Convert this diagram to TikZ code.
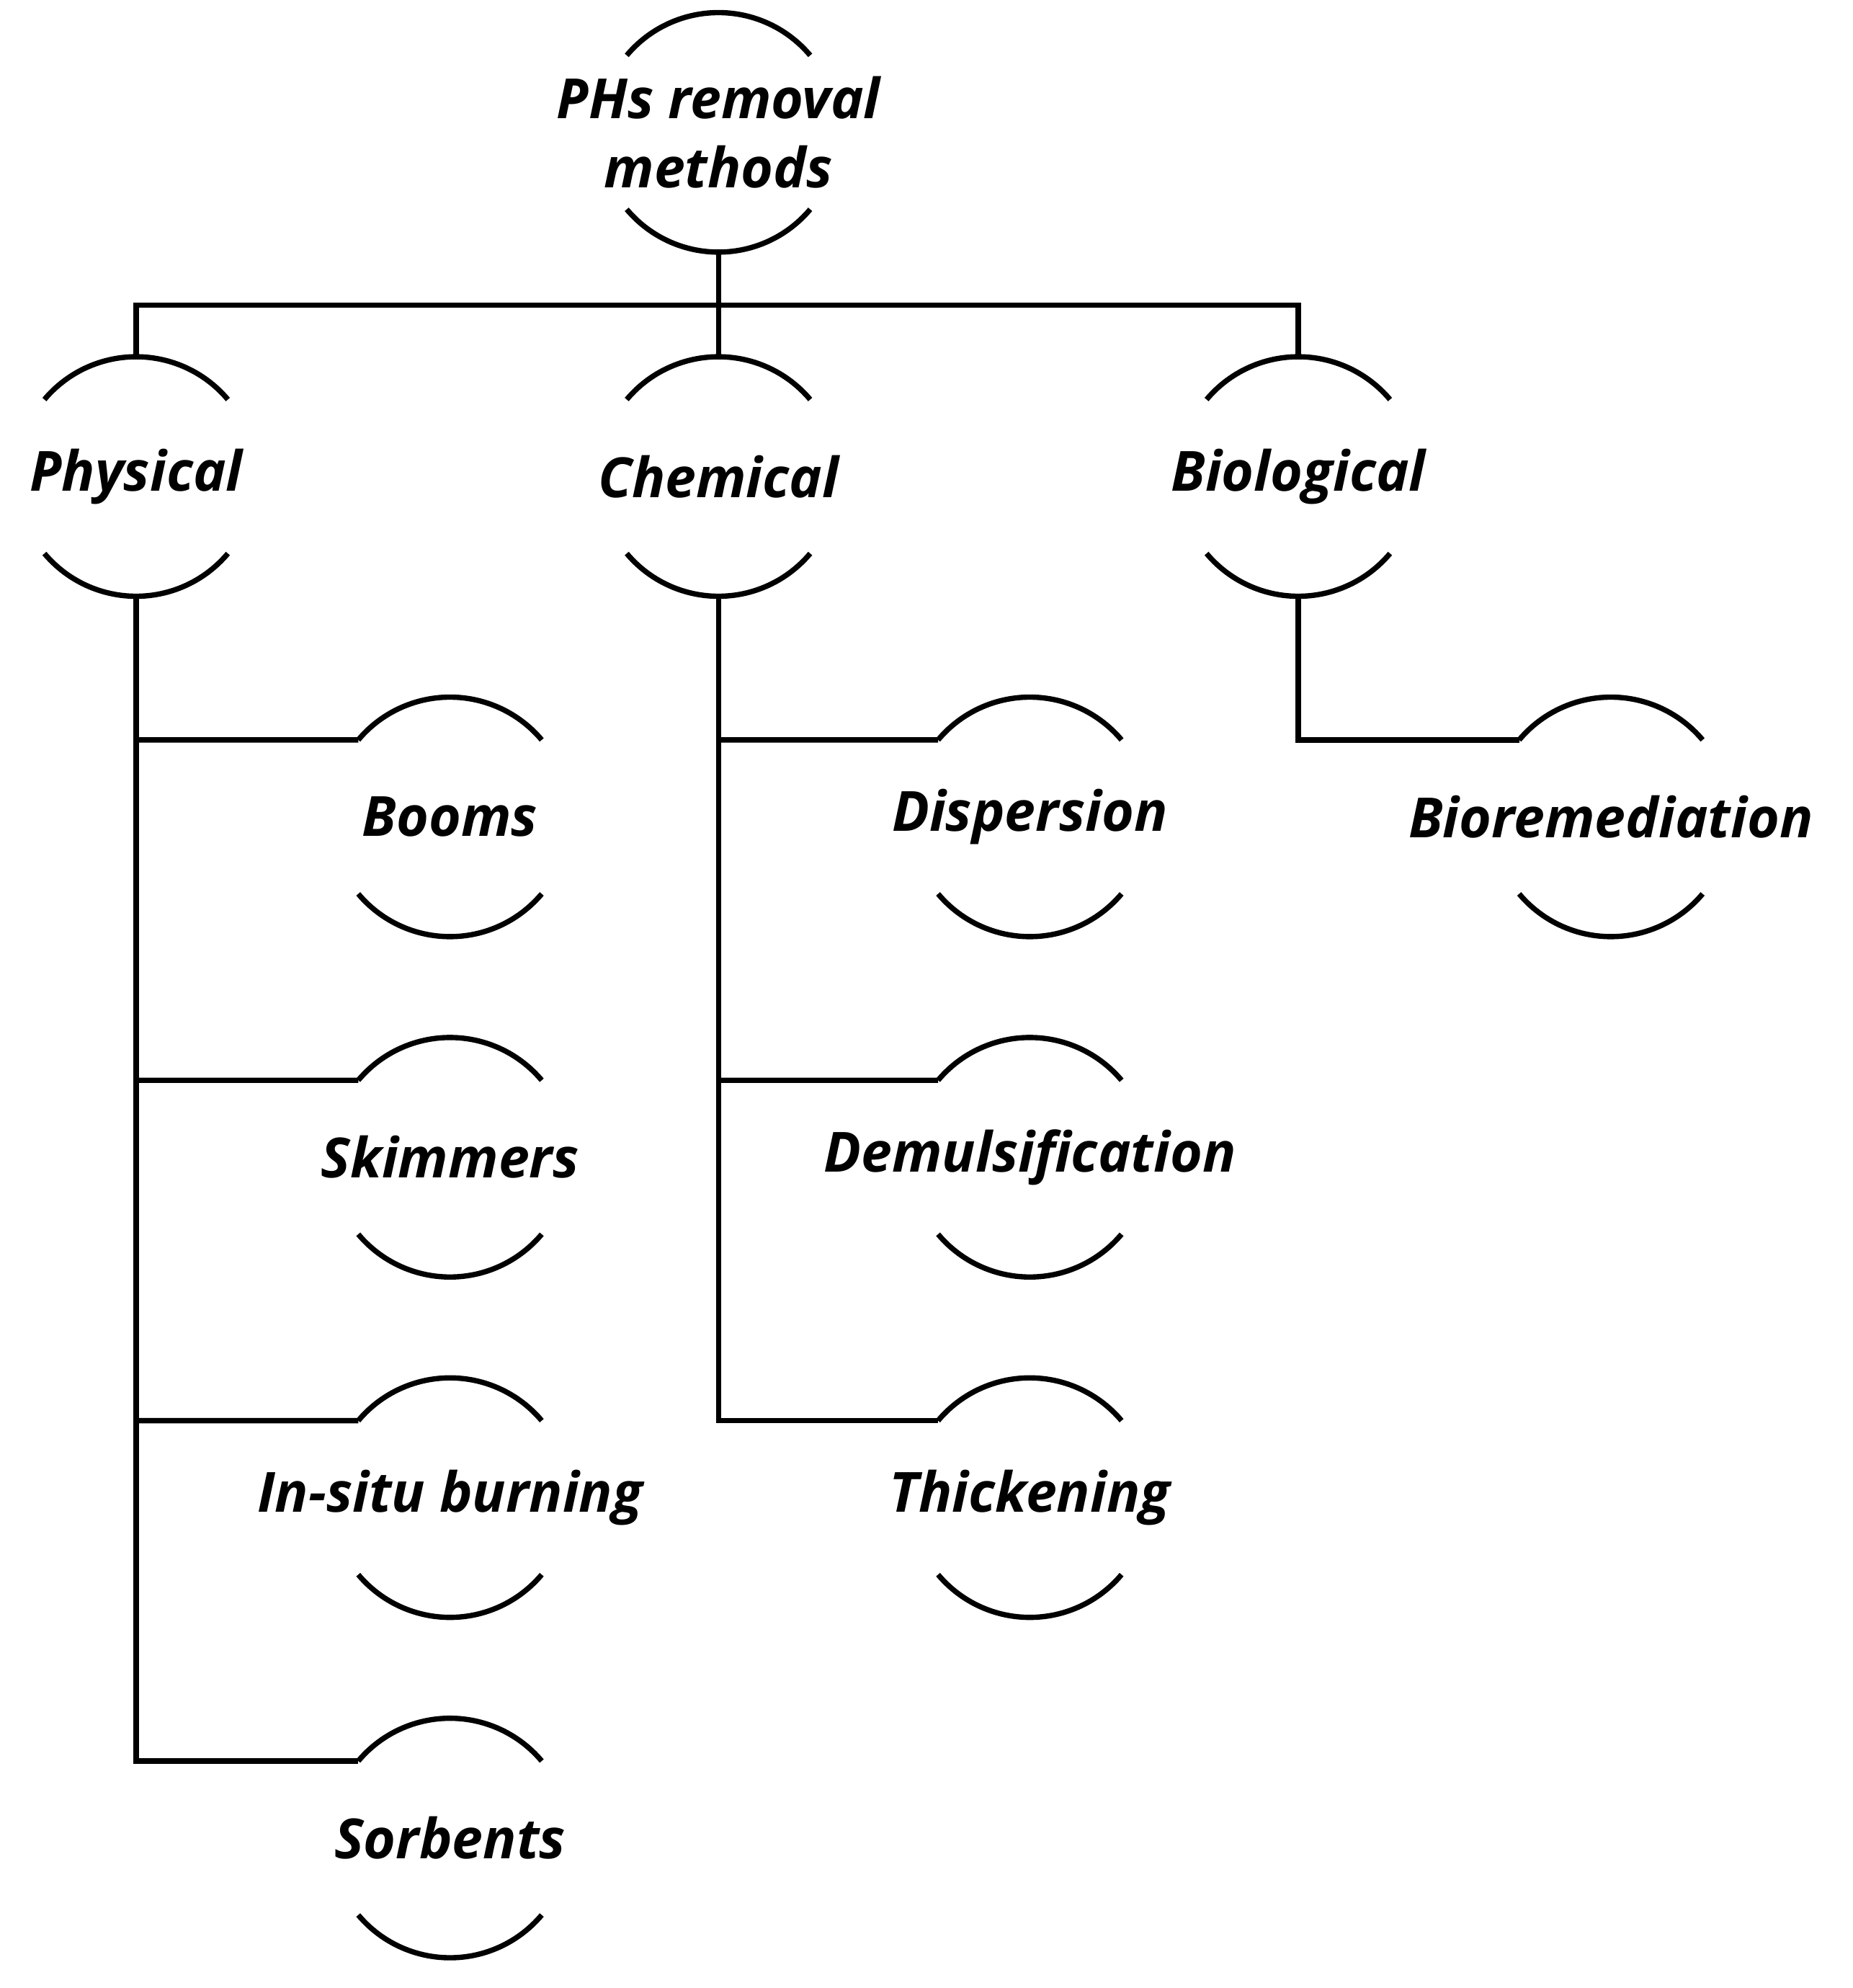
\documentclass[tikz,border=0pt]{standalone}
\usepackage{fontspec}
\setmainfont{Open Sans}
\usetikzlibrary{calc}
\tikzset{line/.style={draw, line width=1.2pt}}

\begin{document}
\begin{tikzpicture}[auto]
\tikzstyle{method} = [rectangle, inner sep=0pt, align=center, font=\fontsize{12.5}{15.5}\selectfont\bfseries\itshape]
\useasboundingbox (0,0) rectangle (14.7,-15.77);

\node [method](root) at (5.70,-1.05){PHs removal\\methods};
\node [method](phys) at (1.08,-3.78){Physical};
\node [method](chem) at (5.70,-3.78){Chemical};
\node [method](bio) at (10.30,-3.78){Biological};
\node [method](booms) at (3.57,-6.48){Booms};
\node [method](skim) at (3.57,-9.18){Skimmers};
\node [method](burn) at (3.57,-11.88){In-situ burning};
\node [method](sorb) at (3.57,-14.58){Sorbents};
\node [method](disp) at (8.17,-6.48){Dispersion};
\node [method](demul) at (8.17,-9.18){Demulsification};
\node [method](thick) at (8.17,-11.88){Thickening};
\node [method](biorem) at (12.78,-6.48){Bioremediation};

% arcs above and below each method
\foreach \n in {root,phys,chem,bio,booms,skim,burn,sorb,disp,demul,thick,biorem}
  \draw [line] ([shift={(140:0.95)}]\n.center) arc[start angle=140, end angle=40, radius=0.95]
               ([shift={(220:0.95)}]\n.center) arc[start angle=220, end angle=320, radius=0.95];

\coordinate (bus) at (5.70,-2.42);
\path [line] ([yshift=-0.95cm]root.center) -- (bus);
\path [line] ([yshift=0.95cm]phys.center) |- (bus) -| ([yshift=0.95cm]bio.center);
\path [line] (bus) -- ([yshift=0.95cm]chem.center);

\path [line] ([yshift=-0.95cm]phys.center) |- ([shift={(140:0.95)}]sorb.center);
\foreach \n in {booms,skim,burn}
  \path [line] ([shift={(140:0.95)}]\n.center) -- ([yshift=0.6107cm]phys.center|-\n.center);
\path [line] ([yshift=-0.95cm]chem.center) |- ([shift={(140:0.95)}]thick.center);
\foreach \n in {disp,demul}
  \path [line] ([shift={(140:0.95)}]\n.center) -- ([yshift=0.6107cm]chem.center|-\n.center);
\path [line] ([yshift=-0.95cm]bio.center) |- ([shift={(140:0.95)}]biorem.center);

\end{tikzpicture}
\end{document}
